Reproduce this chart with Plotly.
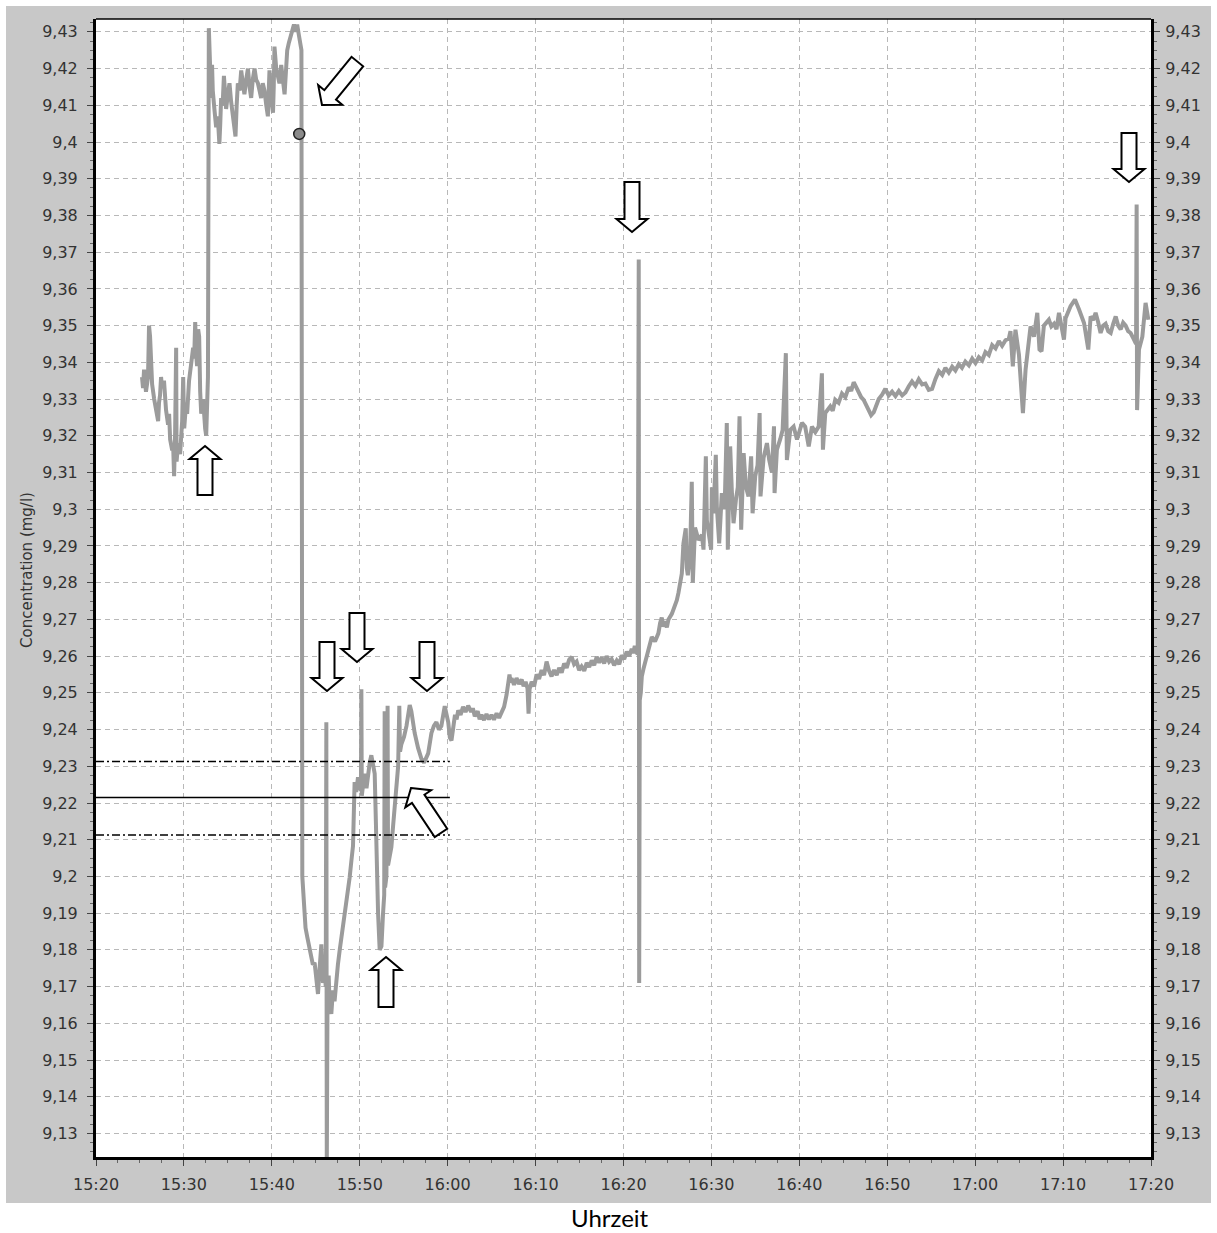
import plotly.graph_objects as go

DAY = "2000-01-01"

# ---------------- data ----------------
# 15:25 - 15:32 : first noisy section
times_1 = ["15:25:14", "15:25:21", "15:25:28", "15:25:41", "15:25:55", "15:26:02", "15:26:09", "15:26:16",
           "15:26:23", "15:26:37", "15:26:50", "15:27:04", "15:27:10", "15:27:17", "15:27:24", "15:27:31",
           "15:27:44", "15:27:58", "15:28:12", "15:28:19", "15:28:26", "15:28:40", "15:28:46", "15:28:53",
           "15:29:00", "15:29:07", "15:29:10", "15:29:20", "15:29:34", "15:29:48", "15:29:55", "15:30:02",
           "15:30:15", "15:30:22", "15:30:35", "15:30:49", "15:31:03", "15:31:10", "15:31:17", "15:31:24",
           "15:31:30", "15:31:37", "15:31:44", "15:31:51", "15:31:58", "15:32:11", "15:32:18", "15:32:25",
           "15:32:32", "15:32:38", "15:32:44"]
conc_1 = [9.336, 9.333, 9.338, 9.332, 9.336, 9.350, 9.347, 9.338,
          9.334, 9.330, 9.327, 9.324, 9.329, 9.331, 9.336, 9.333,
          9.335, 9.327, 9.323, 9.326, 9.319, 9.316, 9.318, 9.309,
          9.321, 9.344, 9.313, 9.318, 9.315, 9.324, 9.336, 9.322,
          9.329, 9.326, 9.335, 9.339, 9.344, 9.341, 9.351, 9.342,
          9.339, 9.349, 9.347, 9.332, 9.326, 9.330, 9.324, 9.322,
          9.320, 9.334, 9.336]

# 15:32 - 15:43 : high plateau
times_2 = ["15:32:50", "15:32:56", "15:33:06", "15:33:12", "15:33:17", "15:33:28", "15:33:40", "15:33:51",
           "15:34:02", "15:34:08", "15:34:14", "15:34:24", "15:34:33", "15:34:40", "15:34:48", "15:35:00",
           "15:35:11", "15:35:22", "15:35:34", "15:35:42", "15:35:52", "15:36:00", "15:36:08", "15:36:20",
           "15:36:31", "15:36:42", "15:36:53", "15:37:05", "15:37:17", "15:37:28", "15:37:39", "15:37:50",
           "15:38:02", "15:38:13", "15:38:25", "15:38:36", "15:38:47", "15:38:58", "15:39:10", "15:39:22",
           "15:39:33", "15:39:38", "15:39:44", "15:39:56", "15:40:08", "15:40:13", "15:40:18", "15:40:30",
           "15:40:41", "15:40:52", "15:41:04", "15:41:15", "15:41:27", "15:41:36", "15:41:45", "15:41:56",
           "15:42:08", "15:42:20", "15:42:31", "15:42:42", "15:42:53", "15:43:05", "15:43:16", "15:43:22"]
conc_2 = [9.431, 9.425, 9.412, 9.421, 9.414, 9.409, 9.404, 9.407,
          9.3995, 9.405, 9.412, 9.410, 9.418, 9.414, 9.409, 9.413,
          9.416, 9.411, 9.407, 9.405, 9.4015, 9.410, 9.416, 9.414,
          9.4195, 9.416, 9.413, 9.417, 9.420, 9.415, 9.412, 9.417,
          9.420, 9.417, 9.416, 9.414, 9.412, 9.416, 9.414, 9.410,
          9.407, 9.413, 9.4195, 9.412, 9.408, 9.415, 9.426, 9.420,
          9.418, 9.416, 9.421, 9.418, 9.413, 9.419, 9.425, 9.427,
          9.429, 9.431, 9.432, 9.430, 9.432, 9.429, 9.426, 9.425]

# 15:43 - 16:00 : drop and recovery
times_3 = ["15:43:28", "15:43:35", "15:43:41", "15:43:50", "15:44:02", "15:44:15", "15:44:29", "15:44:40",
           "15:44:52", "15:45:03", "15:45:15", "15:45:26", "15:45:38", "15:45:49", "15:46:00", "15:46:08",
           "15:46:12", "15:46:15", "15:46:20", "15:46:28", "15:46:34", "15:46:46", "15:46:57", "15:47:08",
           "15:47:20", "15:47:31", "15:47:43", "15:48:06", "15:48:28", "15:48:51", "15:49:03", "15:49:14",
           "15:49:20", "15:49:25", "15:49:36", "15:49:48", "15:50:00", "15:50:08", "15:50:11", "15:50:14",
           "15:50:26", "15:50:34", "15:50:46", "15:50:57", "15:51:08", "15:51:19", "15:51:30", "15:51:42",
           "15:51:50", "15:51:57", "15:52:05", "15:52:16", "15:52:28", "15:52:39", "15:52:47", "15:52:50",
           "15:52:53", "15:53:02", "15:53:10", "15:53:13", "15:53:25", "15:53:36", "15:53:48", "15:53:59",
           "15:54:10", "15:54:22", "15:54:30", "15:54:35", "15:54:44", "15:55:02", "15:55:19", "15:55:30",
           "15:55:41", "15:55:52", "15:56:15", "15:56:38", "15:57:01", "15:57:19", "15:57:47", "15:58:09",
           "15:58:26", "15:58:43", "15:59:00", "15:59:17", "15:59:40", "16:00:04", "16:00:15", "16:00:26",
           "16:00:37"]
conc_3 = [9.200, 9.196, 9.190, 9.186, 9.1835, 9.181, 9.178, 9.176,
          9.1765, 9.172, 9.168, 9.175, 9.1815, 9.171, 9.174, 9.170,
          9.242, 9.120, 9.168, 9.173, 9.1653, 9.1626, 9.169, 9.166,
          9.172, 9.176, 9.1799, 9.186, 9.193, 9.1997, 9.2043, 9.2083,
          9.218, 9.2257, 9.223, 9.227, 9.224, 9.2235, 9.251, 9.222,
          9.226, 9.228, 9.224, 9.229, 9.231, 9.233, 9.230, 9.228,
          9.215, 9.200, 9.190, 9.180, 9.181, 9.190, 9.195, 9.245,
          9.197, 9.200, 9.2465, 9.203, 9.206, 9.208, 9.214, 9.220,
          9.225, 9.230, 9.2465, 9.234, 9.236, 9.238, 9.241, 9.244,
          9.2467, 9.245, 9.239, 9.235, 9.232, 9.231, 9.2335, 9.239,
          9.241, 9.242, 9.240, 9.241, 9.2464, 9.242, 9.2378, 9.237,
          9.241]

# 16:00 - 16:27 : slow rise with spike at 16:21
times_4 = ["16:00:50", "16:01:01", "16:01:12", "16:01:28", "16:01:45", "16:02:02", "16:02:20", "16:02:40",
           "16:02:52", "16:03:05", "16:03:25", "16:03:38", "16:03:51", "16:04:08", "16:04:25", "16:04:42",
           "16:04:59", "16:05:16", "16:05:34", "16:05:51", "16:06:08", "16:06:25", "16:06:42", "16:06:52",
           "16:07:02", "16:07:09", "16:07:16", "16:07:33", "16:07:50", "16:08:07", "16:08:25", "16:08:38",
           "16:08:52", "16:09:05", "16:09:12", "16:09:19", "16:09:33", "16:09:50", "16:10:07", "16:10:24",
           "16:10:41", "16:10:58", "16:11:15", "16:11:32", "16:11:49", "16:12:06", "16:12:24", "16:12:41",
           "16:12:58", "16:13:15", "16:13:32", "16:13:49", "16:14:06", "16:14:23", "16:14:40", "16:14:57",
           "16:15:14", "16:15:32", "16:15:49", "16:16:06", "16:16:23", "16:16:40", "16:16:57", "16:17:14",
           "16:17:31", "16:17:48", "16:18:05", "16:18:22", "16:18:39", "16:18:56", "16:19:14", "16:19:31",
           "16:19:48", "16:20:05", "16:20:22", "16:20:39", "16:20:56", "16:21:07", "16:21:17", "16:21:27",
           "16:21:37", "16:21:44", "16:21:47", "16:21:51", "16:21:58", "16:22:05", "16:22:16", "16:22:33",
           "16:22:50", "16:23:02", "16:23:13", "16:23:35", "16:23:58", "16:24:10", "16:24:21", "16:24:33",
           "16:24:44", "16:24:56", "16:25:07", "16:25:30", "16:25:52", "16:26:04", "16:26:15", "16:26:27",
           "16:26:38"]
conc_4 = [9.2440, 9.2428, 9.2452, 9.2440, 9.2462, 9.2448, 9.2465, 9.2448,
          9.2458, 9.2436, 9.2450, 9.2428, 9.2440, 9.2426, 9.2442, 9.2428,
          9.2440, 9.2427, 9.2444, 9.2432, 9.2448, 9.2462, 9.2495, 9.2520,
          9.2550, 9.2528, 9.2540, 9.2522, 9.2540, 9.2524, 9.2536, 9.2518,
          9.2530, 9.2512, 9.2443, 9.2510, 9.2530, 9.2518, 9.2550, 9.2538,
          9.2562, 9.2548, 9.2585, 9.2560, 9.2545, 9.2562, 9.2548, 9.2568,
          9.2555, 9.2580, 9.2568, 9.2590, 9.2598, 9.2578, 9.2585, 9.2562,
          9.2572, 9.2560, 9.2582, 9.2570, 9.2588, 9.2575, 9.2598, 9.2582,
          9.2596, 9.2580, 9.2600, 9.2585, 9.2592, 9.2575, 9.2588, 9.2578,
          9.2602, 9.2592, 9.2612, 9.2600, 9.2620, 9.2608, 9.2628, 9.2612,
          9.2605, 9.368, 9.171, 9.248, 9.250, 9.2545, 9.2565, 9.2590,
          9.2610, 9.2630, 9.2652, 9.2640, 9.2662, 9.2690, 9.2705, 9.2680,
          9.2695, 9.2678, 9.2700, 9.2715, 9.2738, 9.2752, 9.2772, 9.2795,
          9.2825]

# 16:27 - 16:43 : steep noisy rise
times_5 = ["16:26:49", "16:27:05", "16:27:12", "16:27:19", "16:27:34", "16:27:46", "16:27:53", "16:28:00",
           "16:28:08", "16:28:32", "16:28:55", "16:29:06", "16:29:22", "16:29:29", "16:29:45", "16:29:58",
           "16:30:03", "16:30:14", "16:30:30", "16:30:37", "16:30:53", "16:31:11", "16:31:30", "16:31:45",
           "16:31:52", "16:32:08", "16:32:19", "16:32:31", "16:32:47", "16:33:00", "16:33:12", "16:33:23",
           "16:33:40", "16:33:55", "16:34:13", "16:34:31", "16:34:41", "16:34:59", "16:35:15", "16:35:29",
           "16:35:35", "16:35:56", "16:36:19", "16:36:34", "16:36:53", "16:37:07", "16:37:11", "16:37:27",
           "16:37:49", "16:38:06", "16:38:28", "16:38:35", "16:38:58", "16:39:21", "16:39:44", "16:40:18",
           "16:40:40", "16:41:04", "16:41:26", "16:41:49", "16:42:12", "16:42:34", "16:42:41", "16:42:57"]
conc_5 = [9.2907, 9.2948, 9.284, 9.282, 9.287, 9.3075, 9.280, 9.290,
          9.295, 9.2916, 9.293, 9.289, 9.3144, 9.297, 9.293, 9.289,
          9.306, 9.2989, 9.3148, 9.3007, 9.2907, 9.3044, 9.300, 9.3235,
          9.289, 9.3171, 9.3053, 9.2962, 9.3025, 9.306, 9.3253, 9.2944,
          9.3153, 9.3062, 9.3035, 9.3144, 9.2989, 9.309, 9.312, 9.3262,
          9.3035, 9.314, 9.318, 9.3135, 9.310, 9.3226, 9.3044, 9.3162,
          9.319, 9.3216, 9.3425, 9.3134, 9.3216, 9.3225, 9.319, 9.3235,
          9.3225, 9.3171, 9.3225, 9.321, 9.3225, 9.337, 9.3162, 9.3262]

# 16:43 - 17:04 : gentle rise
times_6 = ["16:43:31", "16:43:48", "16:44:05", "16:44:28", "16:44:51", "16:45:14", "16:45:37", "16:45:54",
           "16:46:11", "16:46:28", "16:46:45", "16:47:02", "16:47:19", "16:47:36", "16:47:53", "16:48:10",
           "16:48:28", "16:48:45", "16:49:02", "16:49:25", "16:49:47", "16:50:10", "16:50:33", "16:50:56",
           "16:51:19", "16:51:42", "16:52:04", "16:52:27", "16:52:49", "16:53:12", "16:53:35", "16:53:58",
           "16:54:20", "16:54:43", "16:55:06", "16:55:29", "16:55:52", "16:56:15", "16:56:37", "16:57:00",
           "16:57:23", "16:57:45", "16:58:08", "16:58:30", "16:58:53", "16:59:17", "16:59:40", "17:00:02",
           "17:00:25", "17:00:48", "17:01:10", "17:01:33", "17:01:56", "17:02:19", "17:02:42", "17:03:04",
           "17:03:27", "17:03:50"]
conc_6 = [9.3280, 9.3268, 9.3298, 9.3290, 9.3315, 9.3305, 9.3332, 9.3322,
          9.3346, 9.3330, 9.3318, 9.3305, 9.3298, 9.3282, 9.3272, 9.3256,
          9.3264, 9.3282, 9.3300, 9.3312, 9.3328, 9.3310, 9.3320, 9.3308,
          9.3322, 9.3310, 9.3318, 9.3335, 9.3348, 9.3336, 9.3354, 9.3340,
          9.3342, 9.3325, 9.3328, 9.3355, 9.3376, 9.3366, 9.3385, 9.3372,
          9.3388, 9.3378, 9.3395, 9.3385, 9.3402, 9.3392, 9.3410, 9.3398,
          9.3414, 9.3405, 9.3428, 9.3420, 9.3447, 9.3438, 9.3458, 9.3445,
          9.3460, 9.3465]

# 17:04 - 17:20 : final section with spike at 17:18
times_7 = ["17:04:01", "17:04:17", "17:04:35", "17:04:59", "17:05:26", "17:05:44", "17:06:18", "17:06:41",
           "17:07:04", "17:07:19", "17:07:33", "17:07:49", "17:08:23", "17:08:40", "17:08:58", "17:09:15",
           "17:09:32", "17:10:06", "17:10:17", "17:10:51", "17:11:21", "17:11:49", "17:12:23", "17:12:52",
           "17:13:08", "17:13:25", "17:13:42", "17:13:59", "17:14:16", "17:14:33", "17:14:50", "17:15:08",
           "17:15:25", "17:15:42", "17:15:59", "17:16:16", "17:16:33", "17:16:50", "17:17:07", "17:17:24",
           "17:17:41", "17:18:04", "17:18:18", "17:18:22", "17:18:25", "17:18:38", "17:19:01", "17:19:23",
           "17:19:42"]
conc_7 = [9.3485, 9.3389, 9.3489, 9.342, 9.3262, 9.338, 9.3498, 9.347,
          9.3535, 9.3435, 9.343, 9.350, 9.3516, 9.3498, 9.3505, 9.3490,
          9.3535, 9.3462, 9.352, 9.3553, 9.3571, 9.3544, 9.3507, 9.3435,
          9.3525, 9.3515, 9.3535, 9.3510, 9.3480, 9.3500, 9.3505, 9.3485,
          9.3480, 9.3505, 9.3525, 9.3500, 9.3490, 9.3508, 9.3500, 9.3485,
          9.3480, 9.3462, 9.345, 9.383, 9.327, 9.3435, 9.347, 9.3562,
          9.3516]

times = times_1 + times_2 + times_3 + times_4 + times_5 + times_6 + times_7
concentration = conc_1 + conc_2 + conc_3 + conc_4 + conc_5 + conc_6 + conc_7

# highlighted point on the curve
marker_time = ["15:43:07"]
marker_value = [9.4022]

# horizontal reference levels (drawn from 15:20 to 16:00)
ref_start, ref_end = "15:20:00", "16:00:15"
ref_levels = [9.2313, 9.2215, 9.2113]
ref_dashes = ["8px,3px,2px,3px", "solid", "8px,3px,2px,3px"]

# axis ticks
y_tick_values = [round(9.13 + 0.01 * i, 2) for i in range(31)]
y_tick_labels = ["9,13", "9,14", "9,15", "9,16", "9,17", "9,18", "9,19", "9,2", "9,21", "9,22",
                 "9,23", "9,24", "9,25", "9,26", "9,27", "9,28", "9,29", "9,3", "9,31", "9,32",
                 "9,33", "9,34", "9,35", "9,36", "9,37", "9,38", "9,39", "9,4", "9,41", "9,42", "9,43"]
x_range = ["15:20", "17:20"]
y_range = [9.1236, 9.4335]

# ---------------- layout geometry ----------------
W, H = 1217, 1233
L, T, R, B = 96, 19, 1151, 1157   # plot area in pixels


def px(x, y):
    return (x - L) / (R - L), (B - y) / (B - T)


def arrow_path(tip, direction, length=49, head_len=13, head_w=31, shaft_w=15):
    tx, ty = tip
    dx, dy = direction
    n = (dx * dx + dy * dy) ** 0.5
    dx, dy = dx / n, dy / n
    nx, ny = -dy, dx
    bx, by = tx - dx * head_len, ty - dy * head_len
    ex, ey = tx - dx * length, ty - dy * length
    pts = [
        (tx, ty),
        (bx + nx * head_w / 2, by + ny * head_w / 2),
        (bx + nx * shaft_w / 2, by + ny * shaft_w / 2),
        (ex + nx * shaft_w / 2, ey + ny * shaft_w / 2),
        (ex - nx * shaft_w / 2, ey - ny * shaft_w / 2),
        (bx - nx * shaft_w / 2, by - ny * shaft_w / 2),
        (bx - nx * head_w / 2, by - ny * head_w / 2),
    ]
    pp = [px(x, y) for x, y in pts]
    return "M " + " L ".join(f"{a:.5f},{b:.5f}" for a, b in pp) + " Z"


arrows = [
    ((205, 446), (0, -1), 49),
    ((322, 105), (-35, 43), 56),
    ((327, 691), (0, 1), 49),
    ((357, 662), (0, 1), 49),
    ((427, 691), (0, 1), 49),
    ((411, 788), (-30, -45), 54),
    ((386, 957), (0, -1), 50),
    ((632, 232), (0, 1), 50),
    ((1129, 182), (0, 1), 49),
]

X = lambda ts: [f"{DAY} {t}" for t in ts]

fig = go.Figure()

fig.add_trace(go.Scatter(
    x=X(times), y=concentration, mode="lines",
    line=dict(color="#9b9b9b", width=4), hoverinfo="skip", showlegend=False,
))

for lvl, dash in zip(ref_levels, ref_dashes):
    fig.add_trace(go.Scatter(
        x=X([ref_start, ref_end]), y=[lvl, lvl], mode="lines", yaxis="y2",
        line=dict(color="black", width=1.6 if dash == "solid" else 1.5, dash=dash),
        hoverinfo="skip", showlegend=False,
    ))

fig.add_trace(go.Scatter(
    x=X(marker_time), y=marker_value, mode="markers",
    marker=dict(symbol="circle", size=11, color="#8a8a8a", line=dict(color="#202020", width=1.5)),
    hoverinfo="skip", showlegend=False,
))

tick_font = dict(family="DejaVu Sans", size=16, color="#333333")

yaxis_common = dict(
    range=y_range, tickmode="array", tickvals=y_tick_values, ticktext=y_tick_labels,
    ticks="outside", ticklen=6, tickwidth=1, tickcolor="#444444",
    tickfont=tick_font, showline=True, linecolor="black", linewidth=3,
    zeroline=False, fixedrange=True,
    minor=dict(ticks="outside", ticklen=3, tickcolor="#666666", dtick=0.0025, showgrid=False),
)

shapes = [
    # grey window frame
    dict(type="rect", xref="paper", yref="paper", layer="below",
         x0=px(6, 6)[0], x1=px(1211, 6)[0], y0=px(6, 1203)[1], y1=px(6, 6)[1],
         fillcolor="#c8c8c8", line=dict(width=0)),
    # white plot area
    dict(type="rect", xref="paper", yref="paper", layer="below",
         x0=0, x1=1, y0=0, y1=1, fillcolor="white", line=dict(width=0)),
    # thin top border
    dict(type="line", xref="paper", yref="paper", x0=0, x1=1, y0=1, y1=1,
         line=dict(color="black", width=1.5)),
]
for tip, d, ln in arrows:
    shapes.append(dict(type="path", xref="paper", yref="paper", path=arrow_path(tip, d, ln),
                       fillcolor="white", line=dict(color="black", width=2), layer="above"))

fig.update_layout(
    width=W, height=H, autosize=False,
    margin=dict(l=L, r=W - R, t=T, b=H - B, pad=0),
    paper_bgcolor="white", plot_bgcolor="white",
    showlegend=False,
    xaxis=dict(
        type="date", range=X(x_range), tickformat="%H:%M", dtick=600000, tick0=f"{DAY} 15:20",
        ticks="outside", ticklen=6, tickwidth=1, tickcolor="#444444", tickfont=tick_font,
        ticklabelstandoff=5,
        showline=True, linecolor="black", linewidth=3, zeroline=False,
        showgrid=True, gridcolor="#b8b8b8", gridwidth=1, griddash="5px,4px",
        minor=dict(ticks="outside", ticklen=3, tickcolor="#666666", dtick=150000, showgrid=False),
        fixedrange=True,
    ),
    yaxis=dict(**yaxis_common, side="left", showgrid=True, gridcolor="#b8b8b8",
               gridwidth=1, griddash="5px,4px", ticklabelstandoff=6),
    yaxis2=dict(**yaxis_common, side="right", overlaying="y", anchor="x", showgrid=False,
                ticklabelstandoff=2),
    shapes=shapes,
    annotations=[
        dict(text="Concentration (mg/l)", xref="paper", yref="paper",
             x=px(27, 0)[0], y=px(0, 570)[1], textangle=-90, showarrow=False,
             xanchor="center", yanchor="middle",
             font=dict(family="DejaVu Sans", size=15, color="#333333")),
        dict(text="Uhrzeit", xref="paper", yref="paper",
             x=px(610, 0)[0], y=px(0, 1217)[1], showarrow=False,
             xanchor="center", yanchor="middle",
             font=dict(family="Lato", size=24, color="black")),
    ],
)

fig.write_html(
    "out.html",
    config={"displayModeBar": False},
    post_script="document.body.style.margin='0px'; document.body.style.padding='0px';",
)
